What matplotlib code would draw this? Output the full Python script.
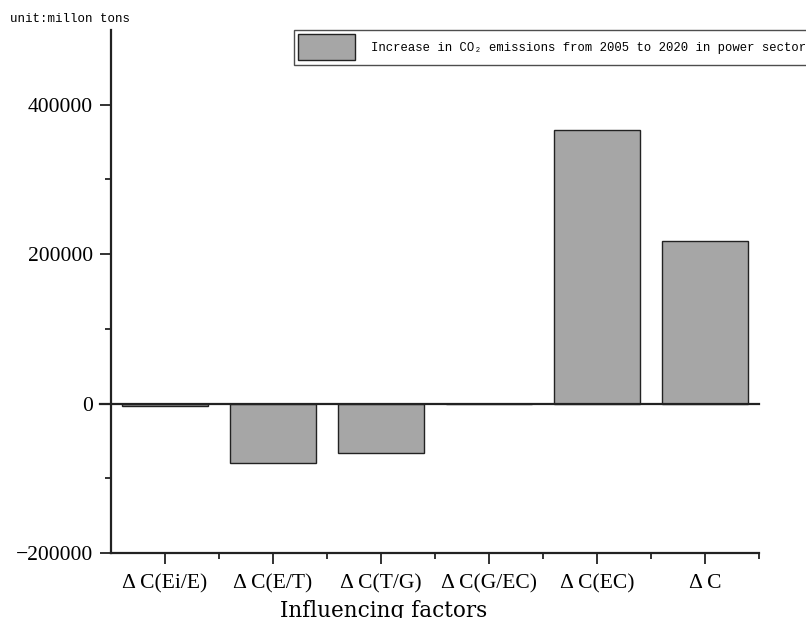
import matplotlib
matplotlib.use("Agg")
import matplotlib.pyplot as plt
import numpy as np

categories = ["Δ C(Ei/E)", "Δ C(E/T)", "Δ C(T/G)", "Δ C(G/EC)", "Δ C(EC)", "Δ C"]
values = [-3000, -79000, -65500, -600, 366500, 217000]
yticks = [-200000, 0, 200000, 400000]
legend_label = "Increase in CO₂ emissions from 2005 to 2020 in power sector"

fig = plt.figure(figsize=(8.06, 6.18), dpi=100)
ax = fig.add_axes([111/806, 1-553/618, (759-111)/806, (553-30)/618])

x = np.arange(len(categories))
ax.bar(x, values, width=0.8, color="#a6a6a6", edgecolor="#222222", linewidth=1.0,
       label=legend_label, zorder=2)
ax.axhline(0, color="#222222", linewidth=1.6, zorder=3, xmin=-0.017, clip_on=False)

ax.set_xlim(-0.5, 5.5)
ax.set_ylim(-200000, 500000)
ax.set_yticks(yticks)
ax.set_yticks([-100000, 100000, 300000], minor=True)
ax.set_xticks(x)
ax.set_xticks(x + 0.5, minor=True)
ax.set_xticklabels(categories, family="Liberation Serif", fontsize=15.5)
ax.set_yticklabels([str(v).replace("-", "−") for v in yticks], family="Liberation Serif", fontsize=15.5)

for s in ["top", "right"]:
    ax.spines[s].set_visible(False)
for s in ["left", "bottom"]:
    ax.spines[s].set_linewidth(1.6)
    ax.spines[s].set_color("#222222")

ax.tick_params(axis="both", which="major", length=8, width=1.3, direction="out", color="#222222")
ax.tick_params(axis="both", which="minor", length=4, width=1.3, direction="out", color="#222222")
ax.tick_params(axis="y", which="major", pad=5)
ax.tick_params(axis="x", which="major", pad=7)

ax.set_xlabel("Influencing factors", family="DejaVu Serif", fontsize=15.5)
ax.xaxis.set_label_coords((384-111)/648, (553-600)/523)
ax.xaxis.label.set_va("top")

fig.text(10/806, 1-19/618, "unit:millon tons", family=["Liberation Mono", "DejaVu Sans Mono"],
         fontsize=9, va="center", ha="left")

leg = fig.legend(loc="upper left", bbox_to_anchor=(294/806, 1-30/618),
                 prop={"family": ["Liberation Mono", "DejaVu Sans Mono"], "size": 8.8},
                 frameon=True, fancybox=False, handlelength=4.6, handleheight=2.9,
                 borderpad=0.35, handletextpad=1.35, borderaxespad=0)
leg.get_frame().set_edgecolor("#222222")
leg.get_frame().set_linewidth(1.0)

fig.savefig("out.png", dpi=100)
